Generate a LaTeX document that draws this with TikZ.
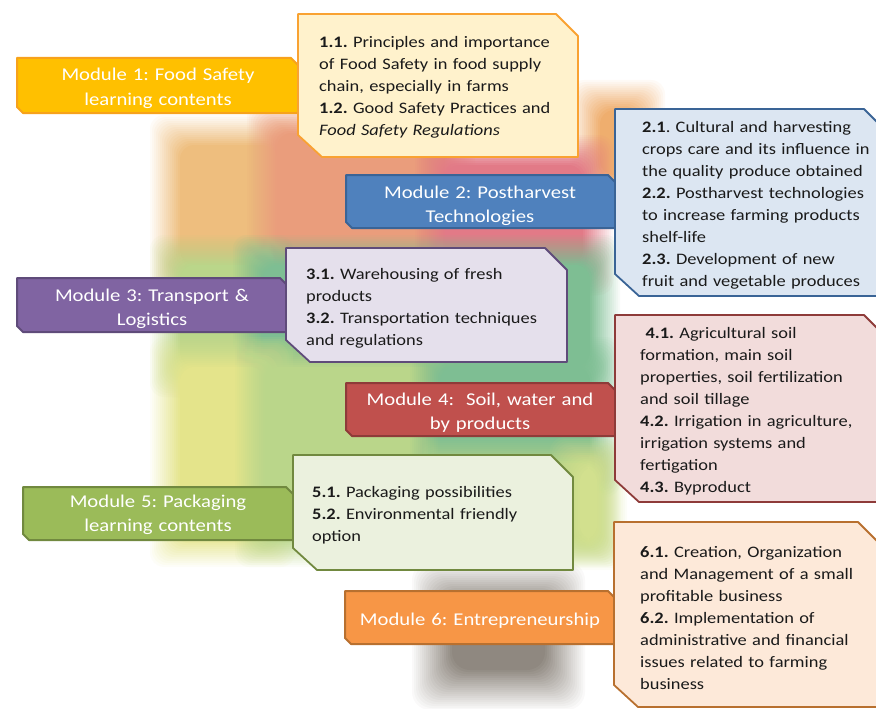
\documentclass[tikz,border=0pt]{standalone}
\usepackage{fontspec}
\setmainfont{Carlito}[FakeStretch=1.15]
\definecolor{m1f}{HTML}{FFC000}\definecolor{m1d}{HTML}{F7A21B}\definecolor{i1f}{HTML}{FFF2CC}\definecolor{i1d}{HTML}{F9A232}
\definecolor{m2f}{HTML}{4F81BD}\definecolor{m2d}{HTML}{3A6496}\definecolor{i2f}{HTML}{DCE6F2}
\definecolor{m3f}{HTML}{8064A2}\definecolor{m3d}{HTML}{5F4B7A}\definecolor{i3f}{HTML}{E5E0EC}
\definecolor{m4f}{HTML}{C0504D}\definecolor{m4d}{HTML}{8E3B39}\definecolor{i4f}{HTML}{F2DCDB}
\definecolor{m5f}{HTML}{9BBB59}\definecolor{m5d}{HTML}{71893F}\definecolor{i5f}{HTML}{EBF1DE}
\definecolor{m6f}{HTML}{F79646}\definecolor{m6d}{HTML}{B8702F}\definecolor{i6f}{HTML}{FDE9D9}
\definecolor{bgtan}{HTML}{EEBE7E}\definecolor{bgsal}{HTML}{EA9D7C}\definecolor{bgpink}{HTML}{E27A87}
\definecolor{bgor}{HTML}{EFAE6E}\definecolor{bglg}{HTML}{BAD68A}\definecolor{bggr}{HTML}{7EBE93}
\definecolor{bgyel}{HTML}{E4E48B}\definecolor{bgyg}{HTML}{D2E08E}\definecolor{bggray}{HTML}{8F8880}
\definecolor{txt}{HTML}{1A1A1A}
% soft-edged block: 16 nested layers giving a linear alpha ramp over about 30pt
\newcommand\blob[5]{\foreach \k in {1,...,16}{\pgfmathsetmacro\dd{15-2*(\k-1)}\pgfmathsetmacro\op{1/(17-\k)}\fill[#1,opacity=\op,rounded corners=14pt] ({#2-\dd},{#3-\dd}) rectangle ({#4+\dd},{#5+\dd});}}
% wider soft block: 21 layers, ramp over about 40pt
\newcommand\wideblob[5]{\foreach \k in {1,...,21}{\pgfmathsetmacro\dd{20-2*(\k-1)}\pgfmathsetmacro\op{1/(22-\k)}\fill[#1,opacity=\op,rounded corners=18pt] ({#2-\dd},{#3-\dd}) rectangle ({#4+\dd},{#5+\dd});}}
\newcommand\modshape[6]{\draw[modbox,draw=#2,fill=#1] (#3,#4) -- ({#5-7},#4) -- (#5,{#4+7}) -- (#5,#6) -- ({#3+6},#6) -- (#3,{#6-6}) -- cycle;}
\newcommand\infoshape[6]{\draw[infobox,draw=#2,fill=#1] (#3,#4) -- ({#5-22},#4) -- (#5,{#4+22}) -- (#5,#6) -- ({#3+24},#6) -- (#3,{#6-22}) -- cycle;}
\tikzset{
 modbox/.style={line width=2pt,line join=round},
 infobox/.style={line width=1.8pt,line join=round},
 modtext/.style={text=white,font=\fontsize{18}{24.5}\selectfont\frenchspacing,align=center,anchor=base,inner sep=0,text width=280pt},
 infotext/.style={text=txt,font=\fontsize{16}{22}\selectfont\frenchspacing,align=left,anchor=base west,inner sep=0,text width=300pt},
}
\begin{document}
\begin{tikzpicture}[x=1pt,y=-1pt]
\useasboundingbox (0,0) rectangle (876,709);
\clip (0,0) rectangle (876,709);
% blurred background (earlier blocks reach under later neighbours so seams blend)
\blob{bgor}{585}{95}{650}{190}
\blob{bgtan}{165}{130}{292}{280}
\blob{bgsal}{262}{118}{460}{280}
\blob{bgpink}{430}{150}{598}{280}
\blob{bglg}{165}{250}{278}{382}
\blob{bggr}{248}{250}{605}{382}
\blob{bgyel}{165}{352}{280}{552}
\blob{bglg}{250}{352}{455}{552}
\blob{bggr}{425}{352}{605}{482}
\blob{bglg}{425}{452}{605}{552}
\blob{bgyg}{565}{452}{612}{555}
\wideblob{bggray}{432}{582}{565}{690}
% module 1
\modshape{m1f}{m1d}{17}{58}{298}{113}
\infoshape{i1f}{i1d}{298}{14}{578}{157}
\node[modtext] (m1) at (158,81) {Module 1: Food Safety\\learning contents};
\node[infotext] (t1) at (319,48) {\textbf{1.1.} Principles and importance\\of Food Safety in food supply\\chain, especially in farms\\\textbf{1.2.} Good Safety Practices and\\\textit{Food Safety Regulations}};
% module 2
\modshape{m2f}{m2d}{346}{175}{615}{228}
\infoshape{i2f}{m2d}{615}{109}{886}{296}
\node[modtext] (m2) at (480,198) {Module 2: Postharvest\\Technologies};
\node[infotext] (t2) at (642,132) {\textbf{2.1}. Cultural and harvesting\\crops care and its influence in\\the quality produce obtained\\\textbf{2.2.} Postharvest technologies\\to increase farming products\\shelf-life\\\textbf{2.3.} Development of new\\fruit and vegetable produces};
% module 3
\modshape{m3f}{m3d}{17}{278}{287}{332}
\infoshape{i3f}{m3d}{286}{248}{567}{362}
\node[modtext] (m3) at (152,301) {Module 3: Transport \&\\Logistics};
\node[infotext] (t3) at (306,279) {\textbf{3.1.} Warehousing of fresh\\products\\\textbf{3.2.} Transportation techniques\\and regulations};
% module 4
\modshape{m4f}{m4d}{346}{383}{615}{436}
\infoshape{i4f}{m4d}{615}{315}{886}{502}
\node[modtext] (m4) at (480,405) {Module 4:\ \ Soil, water and\\by products};
\node[infotext] (t4) at (640,338) {\ \textbf{4.1.} Agricultural soil\\formation, main soil\\properties, soil fertilization\\and soil tillage\\\textbf{4.2.} Irrigation in agriculture,\\irrigation systems and\\fertigation\\\textbf{4.3.} Byproduct};
% module 5
\modshape{m5f}{m5d}{23}{487}{293}{540}
\infoshape{i5f}{m5d}{293}{455}{573}{570}
\node[modtext] (m5) at (158,507) {Module 5: Packaging\\learning contents};
\node[infotext] (t5) at (312,497) {\textbf{5.1.} Packaging possibilities\\\textbf{5.2.} Environmental friendly\\option};
% module 6
\modshape{m6f}{m6d}{345}{591}{615}{644}
\infoshape{i6f}{m6d}{614}{522}{880}{707}
\node[modtext] (m6) at (480,625) {Module 6: Entrepreneurship};
\node[infotext] (t6) at (640,557) {\textbf{6.1.} Creation, Organization\\and Management of a small\\profitable business\\\textbf{6.2.} Implementation of\\administrative and financial\\issues related to farming\\business};
\end{tikzpicture}
\end{document}
